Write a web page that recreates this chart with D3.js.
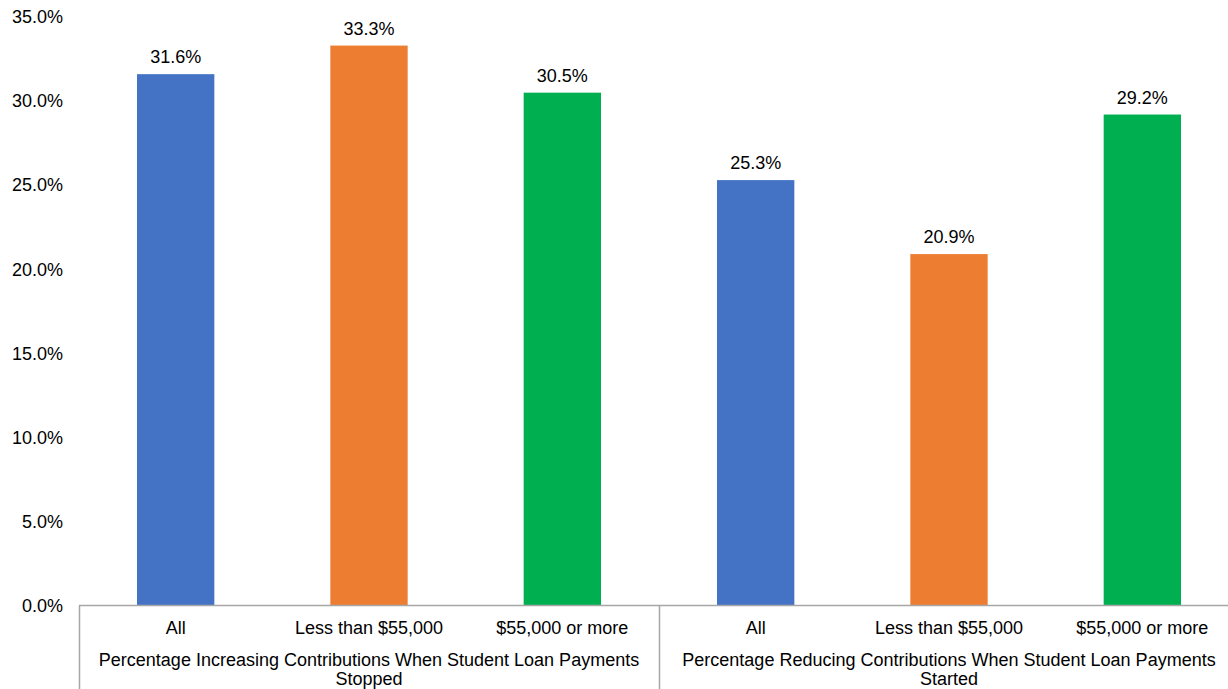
<!DOCTYPE html>
<html>
<head>
<meta charset="utf-8">
<script src="https://cdn.jsdelivr.net/npm/d3@7"></script>
<style>
html,body{margin:0;padding:0;background:#fff;overflow:hidden;}
svg{display:block;font-family:Arial,"Liberation Sans",sans-serif;}
</style>
</head>
<body>
<svg id="chart" width="1228" height="689"></svg>
<script>
const groups = ["Percentage Increasing Contributions When Student Loan Payments Stopped",
                "Percentage Reducing Contributions When Student Loan Payments Started"];
const groupLines = [["Percentage Increasing Contributions When Student Loan Payments","Stopped"],
                    ["Percentage Reducing Contributions When Student Loan Payments","Started"]];
const categories = ["All","Less than $55,000","$55,000 or more"];
const values = [[31.6, 33.3, 30.5],[25.3, 20.9, 29.2]];
const yTicks = [0,5,10,15,20,25,30,35];
const colors = ["#4472C4","#ED7D31","#00B050"];

const FS = 18;
const svg = d3.select("#chart");
const x0 = 79, x1 = 1239, yBase = 605.5, yTop = 17;
const y = d3.scaleLinear().domain([0,35]).range([yBase,yTop]);

const flat = [];
groups.forEach((g,gi)=>categories.forEach((c,ci)=>flat.push({g:gi,c:ci,key:gi+"-"+ci,cat:c,v:values[gi][ci]})));
const x = d3.scaleBand().domain(flat.map(d=>d.key)).range([x0,x1]).paddingInner(0.6).paddingOuter(0.3);
const xg = d3.scaleBand().domain(d3.range(groups.length)).range([x0,x1]);

// y tick labels
svg.append("g").selectAll("text").data(yTicks).join("text")
  .attr("x",63).attr("y",d=>y(d)).attr("dy","0.35em")
  .attr("text-anchor","end").attr("font-size",FS).attr("fill","#000")
  .text(d=>d.toFixed(1)+"%");

// bars
svg.append("g").selectAll("rect").data(flat).join("rect")
  .attr("x",d=>x(d.key)).attr("width",x.bandwidth())
  .attr("y",d=>y(d.v)).attr("height",d=>y(0)-y(d.v))
  .attr("fill",d=>colors[d.c]);

// value labels
svg.append("g").selectAll("text").data(flat).join("text")
  .attr("x",d=>x(d.key)+x.bandwidth()/2).attr("y",d=>y(d.v)-11)
  .attr("text-anchor","middle").attr("font-size",FS).attr("fill","#000")
  .text(d=>d.v.toFixed(1)+"%");

// axis line
svg.append("line").attr("x1",x0).attr("x2",x1).attr("y1",yBase).attr("y2",yBase)
  .attr("stroke","#a6a6a6").attr("stroke-width",1.5);
// group dividers
const divs = d3.range(groups.length+1).map(i=> i<groups.length ? xg(i) : x1);
svg.append("g").selectAll("line").data(divs).join("line")
  .attr("x1",d=>Math.round(d)+0.5).attr("x2",d=>Math.round(d)+0.5)
  .attr("y1",yBase).attr("y2",689).attr("stroke","#a6a6a6").attr("stroke-width",1.5);

// category labels
svg.append("g").selectAll("text").data(flat).join("text")
  .attr("x",d=>x(d.key)+x.bandwidth()/2).attr("y",633.5)
  .attr("text-anchor","middle").attr("font-size",FS).attr("fill","#000")
  .text(d=>d.cat);

// group labels
groupLines.forEach((lines,gi)=>{
  const t = svg.append("text").attr("text-anchor","middle").attr("font-size",FS).attr("fill","#000");
  lines.forEach((ln,li)=>{
    t.append("tspan").attr("x",xg(gi)+xg.bandwidth()/2).attr("y",666+li*19).text(ln);
  });
});
</script>
</body>
</html>
